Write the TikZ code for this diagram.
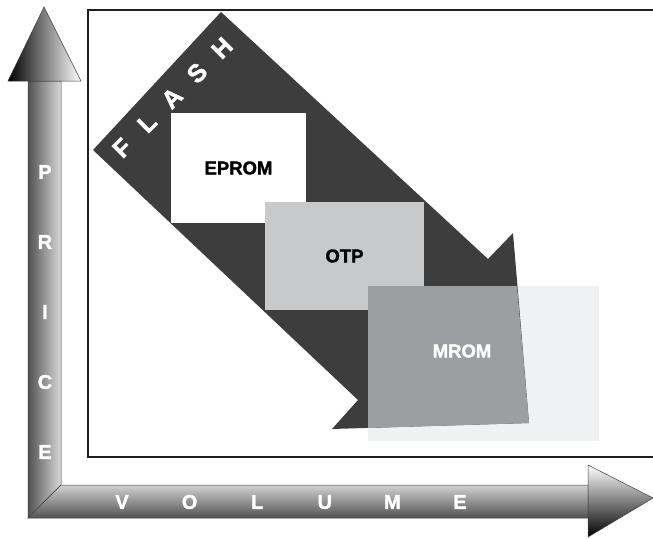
\documentclass[tikz,border=0pt]{standalone}
\usepackage{fontspec}
\setmainfont{Liberation Sans}
\newfontfamily\heavyfont[BoldFont={Liberation Sans Bold}, BoldFeatures={FakeBold=1.6}]{Liberation Sans}
\usepackage{xcolor}
\usetikzlibrary{calc}
\definecolor{flashgray}{HTML}{3D3D3D}
\definecolor{otpgray}{HTML}{C8C9CB}
\definecolor{mromgray}{HTML}{9D9EA2}
\definecolor{paleback}{HTML}{F0F1F3}
\tikzset{
  chip box/.style={
    rectangle,
    inner sep=0pt,
    font=\heavyfont\fontsize{18.5}{20}\selectfont\bfseries,
  },
  chip label/.style={inner sep=0pt, font=\heavyfont\fontsize{18.5}{20}\selectfont\bfseries},
  axis letter/.style={inner sep=0pt, text=white, font=\heavyfont\fontsize{20}{22}\selectfont\bfseries},
  flash letter/.style={inner sep=0pt, text=white, rotate=45, font=\heavyfont\fontsize{25}{26}\selectfont\bfseries},
  axis edge/.style={draw=black!75, line width=0.5pt},
}

\begin{document}
\begin{tikzpicture}[x=1pt,y=-1pt]
  \useasboundingbox (0,0) rectangle (653,538);
  \draw[line width=2.6pt, draw=black!88] (670,10) -- (88,10) -- (88,457) -- (670,457);

  \fill[paleback] (368,286) rectangle (599,441);
  \fill[flashgray] (93,150) -- (221,12) -- (488,259) -- (513,233) -- (529,423) -- (332,429) -- (358,400) -- cycle;
  \node[chip box, fill=white, minimum width=135pt, minimum height=110pt] (eprom) at (238.5,168) {EPROM};
  \node[chip box, fill=otpgray, minimum width=159pt, minimum height=108pt] (otp) at (344.5,256) {OTP};
  \fill[mromgray] (368,286) -- (517,286) -- (529,423) -- (368,428) -- cycle;
  \node[chip label, text=white] (mrom) at (462,351) {MROM};

  \foreach \ch [count=\i from 0] in {F,L,A,S,H}
    \node[flash letter] (flash\i) at ($(122,148)+\i*(25,-25)$) {\ch};

  \shadedraw[axis edge, left color=black!68, right color=black!15] (28,518) -- (28,81) -- (61,81) -- (61,485) -- cycle;
  \shadedraw[axis edge, left color=black, right color=white] (8,81) -- (44,7) -- (81,81) -- cycle;
  \shadedraw[axis edge, top color=black!18, bottom color=black!68] (28,518) -- (61,485) -- (588,485) -- (588,518) -- cycle;
  \shadedraw[axis edge, top color=white, bottom color=black] (588,465) -- (653,498) -- (588,537) -- cycle;

  \foreach \ch [count=\i from 0] in {P,R,I,C,E}
    \node[axis letter] (price\i) at (45,172+70*\i) {\ch};
  \foreach \ch [count=\i from 0] in {V,O,L,U,M,E}
    \node[axis letter] (volume\i) at (122+67.6*\i,502) {\ch};
\end{tikzpicture}
\end{document}
